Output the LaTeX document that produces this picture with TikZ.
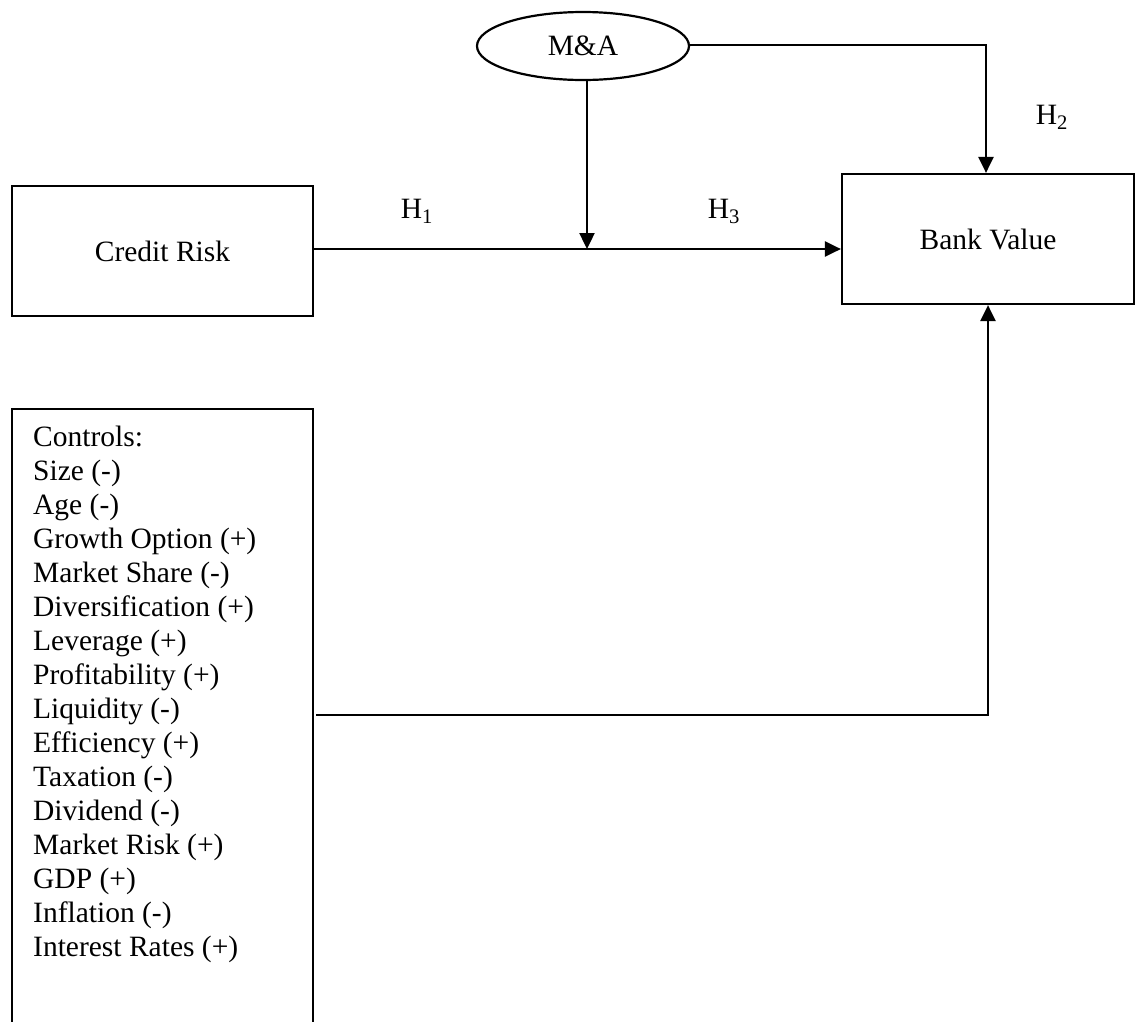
\documentclass[tikz,border=0pt]{standalone}
\usepackage{fontspec}
\setmainfont{Liberation Serif}
\usetikzlibrary{arrows.meta,shapes.geometric}
\begin{document}
\begin{tikzpicture}[x=1pt,y=-1pt,
  every node/.style={font=\fontsize{29.5}{34}\selectfont, inner sep=0pt},
  wire/.style={line width=2.4pt},
  arr/.style={wire,-{Triangle[length=16pt,width=15pt]}},
  boxed/.style={draw, line width=2.2pt, rectangle}]
\useasboundingbox (0,0) rectangle (1136,1021);

% main variables
\node[draw, ellipse, line width=2.2pt, minimum width=212pt, minimum height=68pt] (ma) at (583,46) {M\&A};
\node[boxed, minimum width=301pt, minimum height=130pt] (cr) at (162.5,251) {Credit Risk};
\node[boxed, minimum width=292pt, minimum height=130pt] (bv) at (988,239) {Bank Value};

% control variables: frame open at the lower edge
\node[minimum width=301pt, minimum height=614pt] (ctl) at (162.5,716) {};
\draw[line width=2.2pt] (ctl.south west) -- (ctl.north west) -- (ctl.north east) -- (ctl.south east);
\node[anchor=north west, align=left] (ctltext) at (33,426) {Controls:\\Size (-)\\Age (-)\\Growth Option (+)\\Market Share (-)\\Diversification (+)\\Leverage (+)\\Profitability (+)\\Liquidity (-)\\Efficiency (+)\\Taxation (-)\\Dividend (-)\\Market Risk (+)\\GDP (+)\\Inflation (-)\\Interest Rates (+)};

% connectors
\coordinate (j) at (587,249);
\coordinate (mr) at (986,45);
\coordinate (cs) at (316,715);
\coordinate (ce) at (988,715);
\draw[arr] (cr.east |- j) -- (j) -- (bv.west |- j);
\draw[arr] (ma.south -| j) -- (j);
\draw[arr] (ma.east |- mr) -- (mr) -- (mr |- bv.north);
\draw[arr] (cs) -- (ce) -- (bv.south);

% hypothesis labels
\node (h1) at (417,211) {H\textsubscript{1}};
\node (h3) at (724,211) {H\textsubscript{3}};
\node (h2) at (1052,117) {H\textsubscript{2}};
\end{tikzpicture}
\end{document}
